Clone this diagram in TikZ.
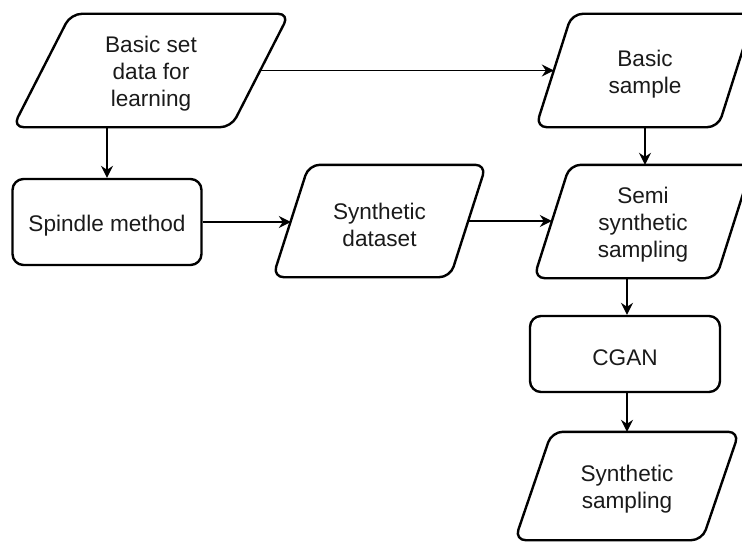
\documentclass[tikz,border=0pt]{standalone}
\usepackage{fontspec}
\setmainfont{Liberation Sans}
\usetikzlibrary{calc,arrows.meta}
\definecolor{txt}{HTML}{1A1A1A}
\newcommand\parashape[2]{%
  \draw[shapeline] ($(#1.south west)+(-#2,0)$) -- ($(#1.north west)+(#2,0)$)
    -- ($(#1.north east)+(#2,0)$) -- ($(#1.south east)+(-#2,0)$) -- cycle;}
\tikzset{
  shapeline/.style={draw=black, line width=2.4pt, rounded corners=11pt, line join=round},
  lbl/.style={inner sep=0pt, align=center, text=txt, font=\fontsize{22.6}{27}\selectfont},
  holder/.style={inner sep=0pt},
  txt/.style={label={[lbl,yshift=-3.5pt]center:{#1}}},
  rbox/.style={holder, shapeline},
  conn/.style={draw=black, line width=1.5pt, -{Stealth[length=12pt,width=12pt,inset=4pt]}},
}
\begin{document}
\begin{tikzpicture}[x=1pt,y=-1pt]
\useasboundingbox (0,0) rectangle (742,543);
\clip (0,0) rectangle (742,543);
% nodes
\node[holder, minimum width=218pt, minimum height=113pt, txt={Basic set\\data for\\learning}] (n1) at (151,70.5) {};
\node[holder, minimum width=182pt, minimum height=113pt, txt={Basic\\sample}] (bs) at (645,70.5) {};
\node[rbox, minimum width=189pt, minimum height=86pt, txt={Spindle method}] (sp) at (107,222) {};
\node[holder, minimum width=177pt, minimum height=112pt, txt={Synthetic\\dataset}] (sd) at (379.5,221) {};
\node[holder, minimum width=182pt, minimum height=113pt, txt={Semi\\synthetic\\sampling}] (ss) at (643,221.5) {};
\node[rbox, minimum width=190pt, minimum height=76pt, txt={CGAN}] (cg) at (625,354) {};
\node[holder, minimum width=187pt, minimum height=108pt, txt={Synthetic\\sampling}] (sy) at (627,486) {};
% parallelogram outlines
\parashape{n1}{29}
\parashape{bs}{18}
\parashape{sd}{18}
\parashape{ss}{18}
\parashape{sy}{18.5}
% connectors
\draw[conn] (n1.east) -- (n1.east -| bs.west);
\draw[conn] (sp.north |- n1.south) -- (sp.north);
\draw[conn] (sp.east) -- (sp.east -| sd.west);
\draw[conn] (sd.east) -- (sd.east -| ss.west);
\draw[conn] (bs.south) -- (bs.south |- ss.north);
\draw[conn] (sy.north |- ss.south) -- (sy.north |- cg.north);
\draw[conn] (sy.north |- cg.south) -- (sy.north);
\end{tikzpicture}
\end{document}
